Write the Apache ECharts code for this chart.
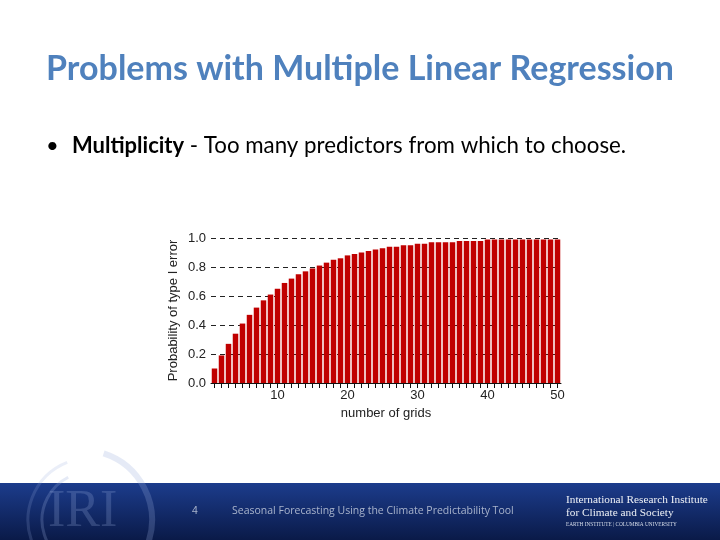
<!DOCTYPE html>
<html>
<head>
<meta charset="utf-8">
<script src="https://cdn.jsdelivr.net/npm/echarts@6/dist/echarts.min.js"></script>
<style>html,body{margin:0;padding:0;background:#fff;}#c{width:720px;height:540px;}</style>
</head>
<body>
<div id="c"></div>
<script>
var categories = [];
for (var i = 1; i <= 50; i++) categories.push(String(i));
var probValues = [0.10,0.19,0.27,0.34,0.41,0.47,0.52,0.57,0.61,0.65,
                  0.69,0.72,0.75,0.77,0.79,0.81,0.83,0.85,0.86,0.88,
                  0.89,0.90,0.91,0.92,0.93,0.94,0.94,0.95,0.95,0.96,
                  0.96,0.97,0.97,0.97,0.97,0.98,0.98,0.98,0.98,0.99,
                  0.99,0.99,0.99,0.99,0.99,0.99,0.99,0.99,0.99,0.99];
var xLabelValues = ['10','20','30','40','50'];
var titleText = 'Problems with Multiple Linear Regression';
var bulletBold = 'Multiplicity';
var bulletRest = ' - Too many predictors from which to choose.';
var footerNum = '4';
var footerText = 'Seasonal Forecasting Using the Climate Predictability Tool';
var orgLines = ['International Research Institute', 'for Climate and Society', 'EARTH INSTITUTE | COLUMBIA UNIVERSITY'];

var chart = echarts.init(document.getElementById('c'), null, {renderer: 'canvas'});
chart.setOption({
  animation: false,
  backgroundColor: '#ffffff',
  grid: {left: 211, right: 159, top: 238, bottom: 157, containLabel: false},
  xAxis: {
    type: 'category',
    data: categories,
    boundaryGap: true,
    name: 'number of grids',
    nameLocation: 'middle',
    nameGap: 24,
    nameTextStyle: {fontFamily: 'Liberation Sans', fontSize: 13, color: '#222'},
    axisLine: {lineStyle: {color: '#111', width: 1}},
    axisTick: {show: true, alignWithLabel: true, interval: 0, length: 5, lineStyle: {color: '#111'}},
    axisLabel: {
      interval: function (idx, val) { return xLabelValues.indexOf(val) >= 0; },
      fontFamily: 'Liberation Sans', fontSize: 13, color: '#222', margin: 6
    },
    splitLine: {show: false}
  },
  yAxis: {
    type: 'value',
    min: 0, max: 1, interval: 0.2,
    name: 'Probability of type I error',
    nameLocation: 'middle',
    nameRotate: 90,
    nameGap: 31,
    nameTextStyle: {fontFamily: 'Liberation Sans', fontSize: 13, color: '#222'},
    axisLine: {show: false},
    axisTick: {show: false},
    axisLabel: {formatter: function (v) { return v.toFixed(1); }, fontFamily: 'Liberation Sans', fontSize: 13, color: '#222', margin: 5},
    splitLine: {show: true, lineStyle: {color: '#222', type: [5, 4], width: 1}}
  },
  series: [{
    type: 'bar',
    data: probValues,
    barWidth: 5.5,
    itemStyle: {color: '#c00000'},
    z: 1
  }],
  graphic: [
    {type: 'text', left: 'center', top: 52, style: {text: titleText, font: 'bold 34px Lato', fill: '#4f81bd'}},
    {type: 'text', left: 46, top: 135, style: {text: '•', font: '22px Lato', fill: '#000'}},
    {type: 'text', left: 72, top: 135, style: {
      text: '{b|' + bulletBold + '}{n|' + bulletRest + '}',
      rich: {b: {font: 'bold 22px Lato', fill: '#000', color: '#000'}, n: {font: '22.3px Lato', fill: '#000', color: '#000'}}
    }},
    {type: 'rect', shape: {x: 0, y: 483, width: 720, height: 57}, z: 10,
      style: {fill: new echarts.graphic.LinearGradient(0, 0, 0, 1, [{offset: 0, color: '#1c3c8c'}, {offset: 1, color: '#0a1a48'}])}},
    {type: 'arc', shape: {cx: 90, cy: 520, r: 62, startAngle: Math.PI * 0.62, endAngle: Math.PI * 1.38}, z: 11,
      style: {stroke: 'rgba(150,170,220,0.2)', lineWidth: 3, fill: null}},
    {type: 'arc', shape: {cx: 90, cy: 520, r: 48, startAngle: Math.PI * 0.65, endAngle: Math.PI * 1.35}, z: 11,
      style: {stroke: 'rgba(150,170,220,0.25)', lineWidth: 3, fill: null}},
    {type: 'arc', shape: {cx: 82, cy: 520, r: 70, startAngle: -Math.PI * 0.4, endAngle: Math.PI * 0.4}, z: 11,
      style: {stroke: 'rgba(150,170,220,0.25)', lineWidth: 6, fill: null}},
    {type: 'text', left: 48, top: 486, z: 11, style: {text: 'IRI', font: '52px Liberation Serif', fill: 'rgba(150,170,220,0.25)'}},
    {type: 'text', left: 192, top: 506, z: 11, style: {text: footerNum, font: '10.5px Liberation Sans', fill: '#a9b4cc'}},
    {type: 'text', left: 232, top: 506, z: 11, style: {text: footerText, font: '10.5px "Open Sans"', fill: '#a9b4cc'}},
    {type: 'text', left: 566, top: 495, z: 11, style: {text: orgLines[0], font: '11.3px Liberation Serif', fill: '#eef1f6'}},
    {type: 'text', left: 566, top: 508, z: 11, style: {text: orgLines[1], font: '11.3px Liberation Serif', fill: '#eef1f6'}},
    {type: 'text', left: 566, top: 522, z: 11, style: {text: orgLines[2], font: '5.3px Liberation Serif', fill: '#d8deea'}}
  ]
});
</script>
</body>
</html>
